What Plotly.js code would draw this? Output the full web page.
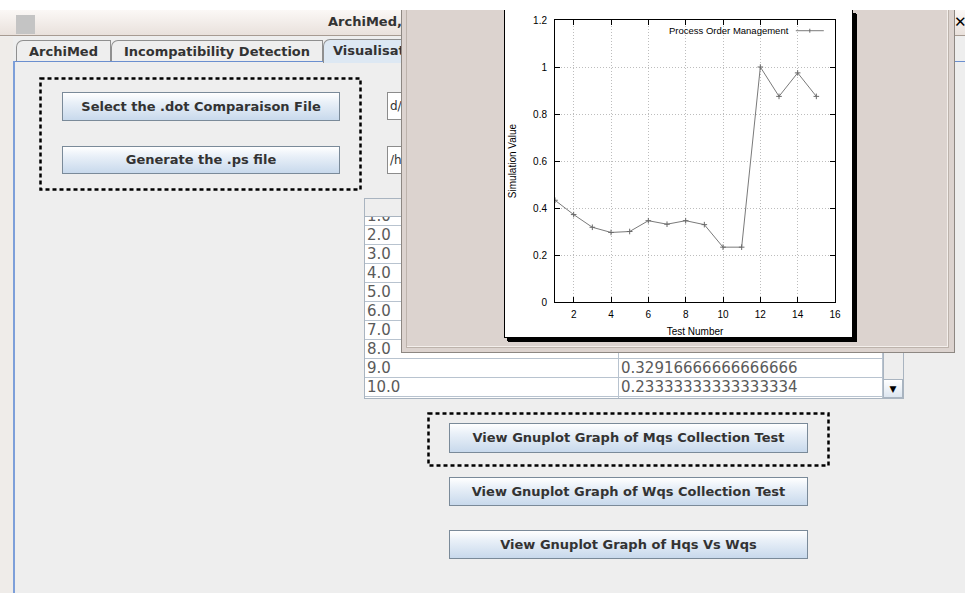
<!DOCTYPE html>
<html>
<head>
<meta charset="utf-8">
<script src="https://cdn.plot.ly/plotly-3.0.1.min.js"></script>
<style>
  html, body { margin:0; padding:0; }
  body { width:965px; height:593px; overflow:hidden; position:relative; background:#eeeeee; font-family:"DejaVu Sans", sans-serif; }
  .abs { position:absolute; box-sizing:border-box; }
  .btn { position:absolute; box-sizing:border-box; border:1px solid #7a8a99;
         background:linear-gradient(to bottom, #ffffff 0%, #e9f0f8 35%, #c8d9ec 100%);
         font:bold 13px "DejaVu Sans", sans-serif; color:#333; text-align:center; }
  .tab { position:absolute; box-sizing:border-box; border:1px solid #8f8f8f; border-bottom:none;
         border-top-left-radius:7px; font:bold 13px "DejaVu Sans", sans-serif; color:#333;
         background:#eeeeee; text-align:center; line-height:22px; }
  .cell { position:absolute; box-sizing:border-box; background:#fff; border-right:1px solid #b8c3cf;
          border-bottom:1px solid #b8c3cf; font:15px "DejaVu Sans", sans-serif; color:#5a5a5a;
          line-height:18px; padding-left:2px; white-space:nowrap; overflow:hidden; }
</style>
</head>
<body>
<!-- main window title bar -->
<div class="abs" style="left:0;top:10px;width:965px;height:26px;background:linear-gradient(to bottom,#fbf8f6,#e9e1dc);border-bottom:1px solid #a79b92;"></div>
<div class="abs" style="left:16px;top:15px;width:19px;height:19px;background:#c4c4c4;"></div>
<div class="abs" style="left:328px;top:14px;font:bold 13px 'DejaVu Sans';color:#333;">ArchiMed,</div>
<div class="abs" style="left:954px;top:13px;font:bold 15px 'DejaVu Sans';color:#000;">✕</div>
<!-- left strip -->
<div class="abs" style="left:0;top:37px;width:13px;height:556px;background:#efece9;"></div>
<!-- tabs -->
<div class="tab" style="left:16px;top:40px;width:95px;height:22px;">ArchiMed</div>
<div class="tab" style="left:111px;top:40px;width:212px;height:22px;">Incompatibility Detection</div>
<div class="tab" style="left:323px;top:39px;width:140px;height:24px;background:#dde8f3;text-align:left;padding-left:9px;">Visualisation</div>
<!-- panel borders -->
<div class="abs" style="left:14px;top:61px;width:309px;height:1px;background:#6b8fcf;"></div>
<div class="abs" style="left:462px;top:61px;width:503px;height:1px;background:#6b8fcf;"></div>
<div class="abs" style="left:13px;top:61px;width:2px;height:532px;background:#7d9fd9;"></div>

<!-- top dashed box -->
<svg class="abs" style="left:39px;top:77px;" width="324" height="115">
  <rect x="1.5" y="1.5" width="320" height="111" fill="none" stroke="#000" stroke-width="2.5" stroke-dasharray="4 3"/>
</svg>
<div class="btn" style="left:62px;top:92px;width:278px;height:29px;line-height:27px;">Select the .dot Comparaison File</div>
<div class="btn" style="left:62px;top:146px;width:278px;height:28px;line-height:26px;">Generate the .ps file</div>
<div class="abs" style="left:387px;top:92px;width:40px;height:28px;background:#fff;border:1px solid #8c8c8c;font:12px 'DejaVu Sans';color:#333;line-height:26px;padding-left:2px;">d/v</div>
<div class="abs" style="left:387px;top:146px;width:40px;height:28px;background:#fff;border:1px solid #8c8c8c;font:12px 'DejaVu Sans';color:#333;line-height:26px;padding-left:2px;">/h</div>

<!-- table -->
<div id="table" class="abs" style="left:364px;top:198px;width:540px;height:201px;overflow:hidden;background:#fff;border:1px solid #a9b4c0;isolation:isolate;z-index:0;"></div>

<!-- popup window -->
<div class="abs" style="left:401px;top:10px;width:554px;height:343px;background:#dcd3cf;border:1px solid #8d8782;border-top:none;z-index:5;"></div>
<div class="abs" style="left:406px;top:10px;width:543px;height:338px;border:1px solid #bdb3ac;border-top:none;box-shadow:inset -1px -1px 0 #f4efec;z-index:6;"></div>
<div class="abs" style="left:504px;top:10px;width:349px;height:328px;background:#fff;border:1px solid #000;border-top:none;box-shadow:3px 3px 0 #000, 4px 4px 0 #000;z-index:7;"></div>
<div id="chart" class="abs" style="left:505px;top:10px;width:347px;height:327px;z-index:8;"></div>

<!-- bottom dashed box and buttons -->
<svg class="abs" style="left:427px;top:412px;" width="404" height="56">
  <rect x="1.5" y="1.5" width="400" height="52" fill="none" stroke="#000" stroke-width="2.5" stroke-dasharray="4 3"/>
</svg>
<div class="btn" style="left:449px;top:423px;width:359px;height:30px;line-height:28px;">View Gnuplot Graph of Mqs Collection Test</div>
<div class="btn" style="left:449px;top:477px;width:359px;height:29px;line-height:27px;">View Gnuplot Graph of Wqs Collection Test</div>
<div class="btn" style="left:449px;top:530px;width:359px;height:29px;line-height:27px;">View Gnuplot Graph of Hqs Vs Wqs</div>

<!-- top white margin of the screenshot -->
<div class="abs" style="left:0;top:0;width:965px;height:10px;background:#fff;z-index:20;"></div>

<script>
// ---- chart data ----
const testNumbers = [1, 2, 3, 4, 5, 6, 7, 8, 9, 10, 11, 12, 13, 14, 15];
const simulationValues = [0.433, 0.372, 0.318, 0.296, 0.300, 0.346, 0.331, 0.346, 0.3292, 0.2333, 0.2333, 1.0, 0.875, 0.975, 0.875];
const seriesName = 'Process Order Management';
const xTickValues = [2, 4, 6, 8, 10, 12, 14, 16];
const yTickValues = [0, 0.2, 0.4, 0.6, 0.8, 1, 1.2];
const yTickLabels = ['0', '0.2', '0.4', '0.6', '0.8', '1', '1.2'];
const xAxisTitle = 'Test Number';
const yAxisTitle = 'Simulation Value';

// ---- table data (GUI) ----
const tableRowLabels = ['1.0', '2.0', '3.0', '4.0', '5.0', '6.0', '7.0', '8.0', '9.0', '10.0', ''];
const tableRowValues = ['', '', '', '', '', '', '', '', '0.32916666666666666', '0.23333333333333334', ''];

// build table
(function () {
  const t = document.getElementById('table');
  const hdr = document.createElement('div');
  hdr.className = 'abs';
  hdr.style.cssText = 'left:0;top:0;width:518px;height:18px;background:#eeeeee;border-bottom:1px solid #a9b4c0;z-index:2;';
  t.appendChild(hdr);
  const rowH = 19, firstTop = 8;
  tableRowLabels.forEach((lab, i) => {
    const top = firstTop + i * rowH;
    const c1 = document.createElement('div');
    c1.className = 'cell';
    c1.style.cssText += 'left:0;top:' + top + 'px;width:254px;height:' + rowH + 'px;';
    c1.textContent = lab;
    t.appendChild(c1);
    const c2 = document.createElement('div');
    c2.className = 'cell';
    c2.style.cssText += 'left:254px;top:' + top + 'px;width:264px;height:' + rowH + 'px;';
    c2.textContent = tableRowValues[i];
    t.appendChild(c2);
  });
  const sb = document.createElement('div');
  sb.className = 'abs';
  sb.style.cssText = 'left:518px;top:0;width:20px;height:199px;background:#eeeeee;border-left:1px solid #a9b4c0;z-index:3;';
  t.appendChild(sb);
  const arrow = document.createElement('div');
  arrow.className = 'abs';
  arrow.style.cssText = 'left:518px;top:180px;width:20px;height:19px;background:linear-gradient(#fff,#dde6f0);border:1px solid #a9b4c0;z-index:4;font-size:9px;text-align:center;line-height:19px;color:#000;';
  arrow.textContent = '▼';
  t.appendChild(arrow);
})();

// ---- chart ----
const trace = {
  x: testNumbers,
  y: simulationValues,
  name: seriesName,
  type: 'scatter',
  mode: 'lines+markers',
  line: { color: '#7a7a7a', width: 1 },
  marker: { symbol: 'cross-thin', size: 4, line: { color: '#6a6a6a', width: 1 } },
  showlegend: false,
  hoverinfo: 'skip'
};

const axisCommon = {
  ticks: 'inside', ticklen: 5, tickwidth: 1, tickcolor: '#000',
  showline: true, linecolor: '#000', linewidth: 1, mirror: 'ticks',
  showgrid: true, gridcolor: '#bdbdbd', gridwidth: 1, griddash: '1px,2px',
  zeroline: false, automargin: false, fixedrange: true,
  tickfont: { family: 'Liberation Sans, Arial, sans-serif', size: 10, color: '#000' }
};

const layout = {
  width: 347, height: 327,
  margin: { l: 50, r: 17, t: 10, b: 35, pad: 0 },
  paper_bgcolor: 'rgba(0,0,0,0)', plot_bgcolor: '#fff',
  font: { family: 'Liberation Sans, Arial, sans-serif', size: 10, color: '#000' },
  showlegend: false,
  xaxis: Object.assign({}, axisCommon, {
    range: [1, 16], tickvals: xTickValues, ticklabelstandoff: 3,
    title: { text: xAxisTitle, standoff: 8, font: { size: 10 } }
  }),
  yaxis: Object.assign({}, axisCommon, {
    range: [0, 1.2], tickvals: yTickValues, ticktext: yTickLabels, ticklabelstandoff: 5,
    title: { text: yAxisTitle, standoff: 14, font: { size: 10 } }
  }),
  annotations: [{
    text: seriesName, xref: 'paper', yref: 'paper', x: 0.842, y: 0.962,
    xanchor: 'right', yanchor: 'middle', showarrow: false,
    font: { family: 'Liberation Sans, Arial, sans-serif', size: 9.5, color: '#000' }
  }],
  shapes: [
    { type: 'line', xref: 'paper', yref: 'paper', x0: 0.86, x1: 0.96, y0: 0.962, y1: 0.962, line: { color: '#7a7a7a', width: 1 } },
    { type: 'line', xref: 'paper', yref: 'paper', x0: 0.91, x1: 0.91, y0: 0.955, y1: 0.969, line: { color: '#6a6a6a', width: 1 } }
  ]
};

Plotly.newPlot('chart', [trace], layout, { displayModeBar: false, staticPlot: true });
</script>
</body>
</html>
